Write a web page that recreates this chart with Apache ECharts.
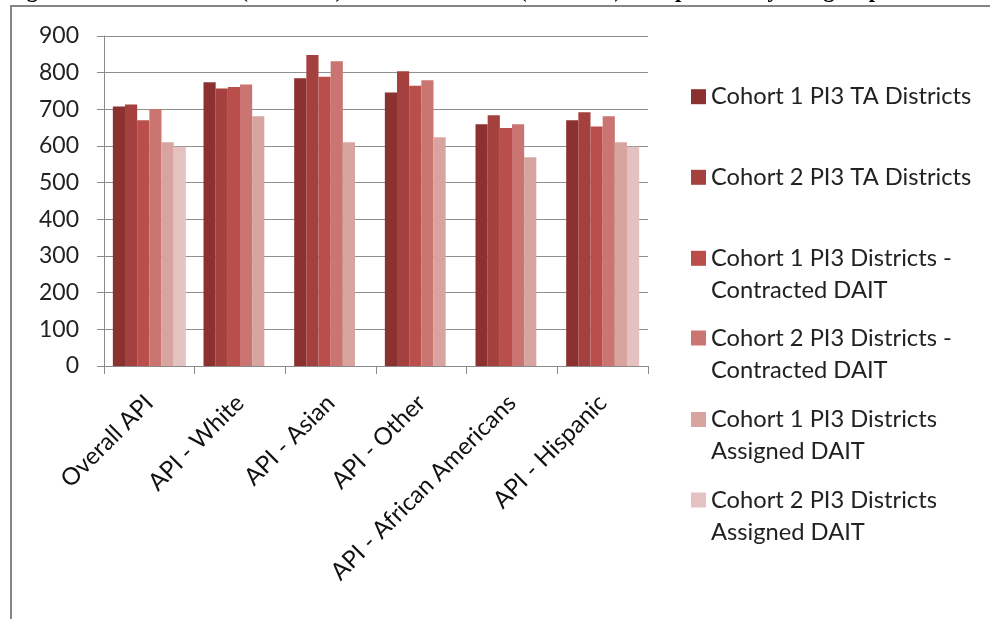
<!DOCTYPE html>
<html>
<head>
<meta charset="utf-8">
<script src="https://cdn.jsdelivr.net/npm/echarts@6/dist/echarts.min.js"></script>
<style>
  html, body { margin: 0; padding: 0; background: #ffffff; }
  #chart { width: 990px; height: 619px; }
</style>
</head>
<body>
<div id="chart"></div>
<script>
// ---- data ----
var categories = ['Overall API', 'API - White', 'API - Asian', 'API - Other', 'API - African Americans', 'API - Hispanic'];
var seriesNames = [
  'Cohort 1 PI3 TA Districts',
  'Cohort 2 PI3 TA Districts',
  'Cohort 1 PI3 Districts -\nContracted DAIT',
  'Cohort 2 PI3 Districts -\nContracted DAIT',
  'Cohort 1 PI3 Districts\nAssigned DAIT',
  'Cohort 2 PI3 Districts\nAssigned DAIT'
];
var cohort1TA          = [708, 774, 785, 746, 659, 670];
var cohort2TA          = [713, 757, 848, 804, 684, 692];
var cohort1Contracted  = [670, 761, 789, 764, 649, 653];
var cohort2Contracted  = [701, 768, 831, 779, 659, 681];
var cohort1Assigned    = [610, 681, 610, 624, 569, 610];
var cohort2Assigned    = [598, null, null, null, null, 598];
var yTicks = [0, 100, 200, 300, 400, 500, 600, 700, 800, 900];
var titleText = 'Figure 12: Growth API (Cohort 1) and Growth API (Cohort 2) Comparison by Subgroup';

// ---- styling ----
var colors = ['#8B3230', '#A4403D', '#B94E4A', '#CA7572', '#D8A49F', '#E4C2C1'];
var seriesData = [cohort1TA, cohort2TA, cohort1Contracted, cohort2Contracted, cohort1Assigned, cohort2Assigned];
var font = 'Lato, "Open Sans", sans-serif';
var lineH = 32;
var legendCenters = [96.7, 177.3, 258.3, 338, 419.5, 500];

var series = seriesData.map(function (d, i) {
  return {
    name: seriesNames[i],
    type: 'bar',
    data: d,
    barGap: '0%',
    barCategoryGap: '19.5%',
    itemStyle: { color: colors[i] },
    emphasis: { disabled: true }
  };
});

var legends = seriesNames.map(function (n, i) {
  var twoLine = n.indexOf('\n') >= 0;
  return {
    data: [n],
    orient: 'vertical',
    left: 691,
    top: legendCenters[i] - (twoLine ? lineH * 1.5 : lineH / 2),
    padding: 0,
    itemWidth: 15,
    itemHeight: 15,
    icon: 'rect',
    selectedMode: false,
    formatter: function (name) { return (name.indexOf('\n') >= 0 ? '\n' : '') + name; },
    textStyle: { fontFamily: font, fontSize: 23.7, color: '#222', lineHeight: lineH }
  };
});

var chart = echarts.init(document.getElementById('chart'), null, { renderer: 'canvas' });
chart.setOption({
  animation: false,
  backgroundColor: '#ffffff',
  title: {
    text: titleText,
    left: 6,
    top: -20.5,
    padding: 0,
    textStyle: { fontFamily: '"Liberation Serif", serif', fontWeight: 'bold', fontSize: 23, color: '#000' }
  },
  graphic: [{
    type: 'rect',
    z: -1,
    shape: { x: 11, y: 6, width: 1200, height: 1000 },
    style: { fill: 'none', stroke: '#858585', lineWidth: 2 }
  }],
  legend: legends,
  grid: { left: 104, right: 342, top: 36, bottom: 253, containLabel: false },
  xAxis: {
    type: 'category',
    data: categories,
    axisLine: { lineStyle: { color: '#8a8a8a', width: 1 } },
    axisTick: { show: true, length: 8, lineStyle: { color: '#8a8a8a' } },
    axisLabel: {
      rotate: 45,
      interval: 0,
      margin: 33,
      fontFamily: font,
      fontSize: 24,
      color: '#111'
    }
  },
  yAxis: {
    type: 'value',
    min: yTicks[0],
    max: yTicks[yTicks.length - 1],
    interval: 100,
    axisLine: { show: true, lineStyle: { color: '#8a8a8a', width: 1 } },
    axisTick: { show: true, length: 7, lineStyle: { color: '#8a8a8a' } },
    splitLine: { lineStyle: { color: '#8f8f8f', width: 1 } },
    axisLabel: { margin: 25, fontFamily: font, fontSize: 23, color: '#222' }
  },
  series: series
});
</script>
</body>
</html>
